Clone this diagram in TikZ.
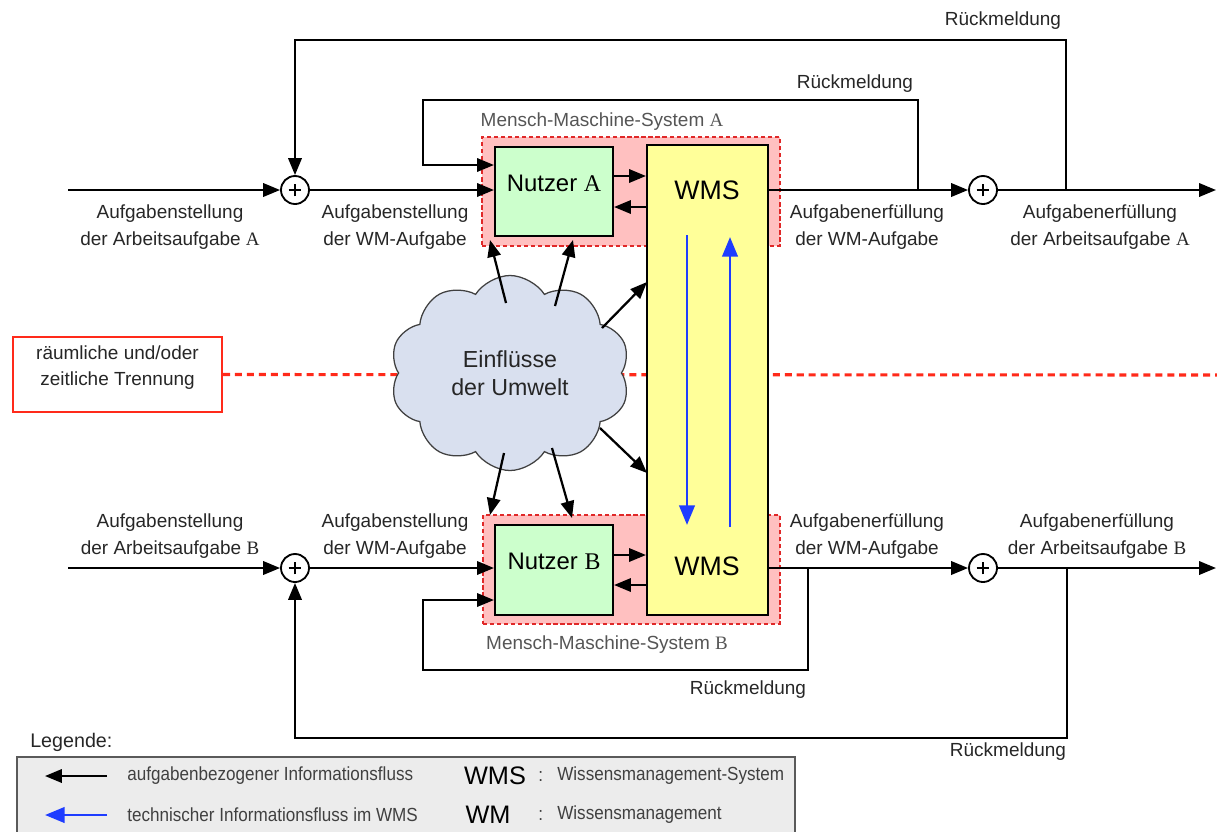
\documentclass[tikz,border=0pt]{standalone}
\usepackage{fontspec}
\setmainfont{Liberation Sans}
\newfontfamily\lettr{Liberation Serif}
\newfontfamily\legfont[FakeStretch=0.9]{Liberation Sans}
\usetikzlibrary{arrows.meta,shapes.symbols,fit}
\newdimen\pxu \pxu=0.025cm

\definecolor{mmsfill}{HTML}{FFC0C0}
\definecolor{mmsborder}{HTML}{E02828}
\definecolor{userfill}{HTML}{CCFFCC}
\definecolor{wmsfill}{HTML}{FFFF99}
\definecolor{techblue}{HTML}{1E3CFF}
\definecolor{cloudfill}{HTML}{D9E0EF}
\definecolor{graytext}{HTML}{555555}
\definecolor{sepred}{HTML}{FF2A1A}
\definecolor{legfill}{HTML}{ECECEC}
\definecolor{legborder}{HTML}{5A5A5A}
\definecolor{labeltext}{HTML}{262626}

\begin{document}
\begin{tikzpicture}[x=0.025cm, y=-0.025cm,
  lbl/.style={font=\fontsize{13.5}{19}\selectfont, align=center, inner sep=0, text=labeltext},
  flow/.style={line width=1.6pt, -{Triangle[length=12pt,width=9.5pt]}},
  tech/.style={line width=2pt, techblue, -{Triangle[length=14pt,width=11pt]}},
  mmsbox/.style={draw=mmsborder, fill=mmsfill, line width=1.1pt, dash pattern=on 3pt off 2pt, inner sep=0},
  mmslbl/.style={font=\fontsize{13.5}{16}\selectfont, text=graytext, inner sep=0},
  nbox/.style={draw, fill=userfill, line width=1.5pt, inner sep=0, font=\fontsize{17}{20}\selectfont},
  wmsbox/.style={draw, fill=wmsfill, line width=1.5pt, inner sep=0},
  wmstxt/.style={font=\fontsize{19}{22}\selectfont, inner sep=0},
  sumnode/.style={circle, draw, line width=1.3pt, fill=white, minimum size=28\pxu, inner sep=0,
    path picture={\draw[line width=1pt]
      ([xshift=-4.5pt]path picture bounding box.center) -- ([xshift=4.5pt]path picture bounding box.center)
      ([yshift=-4.5pt]path picture bounding box.center) -- ([yshift=4.5pt]path picture bounding box.center);}},
  trennbox/.style={draw=sepred, fill=white, line width=1.4pt, inner sep=0, align=center,
    font=\fontsize{13.5}{19}\selectfont, text=labeltext},
  sepline/.style={sepred, line width=2.2pt, dash pattern=on 5pt off 3.5pt},
  cloudnode/.style={cloud, cloud puffs=10, cloud puff arc=115, aspect=1.25, draw=black!75, fill=cloudfill,
    line width=0.9pt, minimum width=240\pxu, minimum height=195\pxu, inner sep=0, align=center,
    font=\fontsize{16.5}{19.5}\selectfont, text=labeltext},
  legbox/.style={draw=legborder, fill=legfill, line width=1.1pt, inner sep=0},
  legtxt/.style={font=\legfont\fontsize{13.5}{16}\selectfont, text=black!75, inner sep=0, anchor=west},
  legbig/.style={font=\fontsize{18}{20}\selectfont, inner sep=0},
]
\useasboundingbox (0,0) rectangle (1217,831);
\clip (0,0) rectangle (1217,831);

% separation marker and dashed separation line
\node[trennbox, fit={(13,337) (222,412)}] (trenn) {räumliche und/oder\\zeitliche Trennung};
\coordinate (sepend) at (1217,375);
\draw[sepline] (trenn.east) -- (sepend);

% man-machine systems
\node[mmsbox, fit={(482,137) (780,246)}] (mmsA) {};
\node[mmslbl] (mmsAl) at (602,122) {Mensch-Maschine-System {\lettr A}};
\node[mmsbox, fit={(483,515) (780,624)}] (mmsB) {};
\node[mmslbl] (mmsBl) at (607,645) {Mensch-Maschine-System {\lettr B}};

% users and knowledge management system
\node[nbox, fit={(495,147) (613,236)}] (nA) {Nutzer {\lettr A}};
\node[nbox, fit={(495,525) (613,615)}] (nB) {Nutzer {\lettr B}};
\node[wmsbox, fit={(647,145) (768,615)}] (wms) {};
\node[wmstxt] (wmsA) at (707,190) {WMS};
\node[wmstxt] (wmsB) at (707,566) {WMS};

% technical flow inside the WMS
\coordinate (bd1) at (687,235); \coordinate (bd2) at (687,525);
\coordinate (bu1) at (730,527); \coordinate (bu2) at (730,237);
\draw[tech] (bd1) -- (bd2);
\draw[tech] (bu1) -- (bu2);

% user <-> WMS
\draw[flow] (nA.east |- 0,176) -- (wms.west |- 0,176);
\draw[flow] (wms.west |- 0,207) -- (nA.east |- 0,207);
\draw[flow] (nB.east |- 0,555) -- (wms.west |- 0,555);
\draw[flow] (wms.west |- 0,585) -- (nB.east |- 0,585);

% summing points
\node[sumnode] (sA1) at (295,190) {};
\node[sumnode] (sA2) at (983,190) {};
\node[sumnode] (sB1) at (295,568) {};
\node[sumnode] (sB2) at (983,568) {};

% task flow A
\coordinate (inA) at (68,190);
\coordinate (outA) at (1216,190);
\draw[flow] (inA) -- (sA1);
\draw[flow] (sA1) -- (nA.west |- sA1);
\draw[flow] (wms.east |- sA2) -- (sA2);
\draw[flow] (sA2) -- (outA);
\coordinate (fbA) at (918,190);
\coordinate (fbAA) at (1066,190);
\draw[flow] (fbA) |- (423,100) |- (nA.west |- 0,165);
\draw[flow] (fbAA) |- (295,40) -- (sA1);

% task flow B
\coordinate (inB) at (68,568);
\coordinate (outB) at (1216,568);
\draw[flow] (inB) -- (sB1);
\draw[flow] (sB1) -- (nB.west |- sB1);
\draw[flow] (wms.east |- sB2) -- (sB2);
\draw[flow] (sB2) -- (outB);
\coordinate (fbB) at (808,568);
\coordinate (fbBB) at (1067,568);
\draw[flow] (fbB) |- (423,670) |- (nB.west |- 0,600);
\draw[flow] (fbBB) |- (295,738) -- (sB1);

% labels
\node[lbl] (lA1) at (170,227) {Aufgabenstellung\\der Arbeitsaufgabe {\lettr A}};
\node[lbl] (lA2) at (395,227) {Aufgabenstellung\\der WM-Aufgabe};
\node[lbl] (lA3) at (867,227) {Aufgabenerfüllung\\der WM-Aufgabe};
\node[lbl] (lA4) at (1100,227) {Aufgabenerfüllung\\der Arbeitsaufgabe {\lettr A}};
\node[lbl] (lB1) at (170,536) {Aufgabenstellung\\der Arbeitsaufgabe {\lettr B}};
\node[lbl] (lB2) at (395,536) {Aufgabenstellung\\der WM-Aufgabe};
\node[lbl] (lB3) at (867,536) {Aufgabenerfüllung\\der WM-Aufgabe};
\node[lbl] (lB4) at (1097,536) {Aufgabenerfüllung\\der Arbeitsaufgabe {\lettr B}};
\node[lbl] (rA1) at (1003,21) {Rückmeldung};
\node[lbl] (rA2) at (855,84) {Rückmeldung};
\node[lbl] (rB2) at (748,690) {Rückmeldung};
\node[lbl] (rB1) at (1008,752) {Rückmeldung};

% environment
\node[cloudnode] (cloud) at (510,373) {Einflüsse\\der Umwelt};
\coordinate (c1) at (506,303); \coordinate (t1) at (490,240);
\coordinate (c2) at (555,306); \coordinate (t2) at (573,240);
\coordinate (c3) at (602,328); \coordinate (t3) at (647,282);
\coordinate (c4) at (600,428); \coordinate (t4) at (647,473);
\coordinate (c5) at (504,453); \coordinate (t5) at (490,515);
\coordinate (c6) at (552,448); \coordinate (t6) at (572,518);
\foreach \s/\t in {c1/t1,c2/t2,c3/t3,c4/t4,c5/t5,c6/t6}
  \draw[flow] (\s) -- (\t);

% legend
\node[anchor=west, inner sep=0, font=\fontsize{14}{16}\selectfont, text=labeltext] (legtitle) at (30,742) {Legende:};
\node[legbox, fit={(17,757) (795,850)}] (leg) {};
\coordinate (la1) at (107,776); \coordinate (la2) at (45,776);
\coordinate (lb1) at (107,815); \coordinate (lb2) at (45,815);
\draw[flow] (la1) -- (la2);
\draw[tech] (lb1) -- (lb2);
\node[legtxt] (lt1) at (127,776) {aufgabenbezogener Informationsfluss};
\node[legtxt] (lt2) at (127,815) {technischer Informationsfluss im WMS};
\node[legbig] (lw1) at (495,776) {WMS};
\node[legbig] (lw2) at (488,815) {WM};
\node[legtxt] (lc1) at (538,776) {:};
\node[legtxt] (lc2) at (538,815) {:};
\node[legtxt] (ld1) at (557,776) {Wissensmanagement-System};
\node[legtxt] (ld2) at (557,815) {Wissensmanagement};
\end{tikzpicture}
\end{document}
